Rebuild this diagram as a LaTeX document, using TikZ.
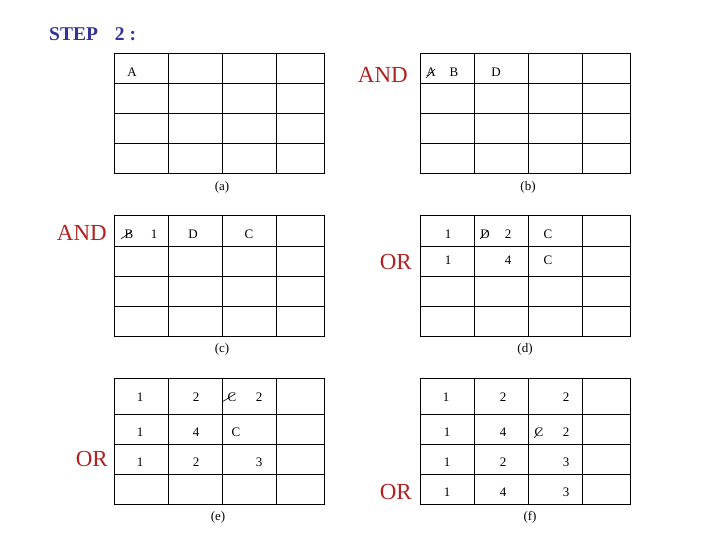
\documentclass[tikz,border=0pt]{standalone}
\usepackage{fontspec}
\setmainfont{Liberation Serif}
\usetikzlibrary{calc}
\definecolor{stepblue}{RGB}{51,51,153}
\definecolor{opred}{RGB}{178,34,34}
\begin{document}
\begin{tikzpicture}[x=1pt,y=-1pt,
  cell/.style={font=\fontsize{13}{15}\selectfont, inner sep=0pt},
  capt/.style={font=\fontsize{13}{15}\selectfont, inner sep=0pt},
  op/.style={font=\fontsize{23}{26}\selectfont, text=opred, inner sep=0pt},
  gridline/.style={line width=1pt, line cap=rect},
  slash/.style={line width=0.6pt}]
\useasboundingbox (0,0) rectangle (720,540);

% title
\node[anchor=base west, inner sep=0pt, text=stepblue, font=\fontsize{19.5}{22}\selectfont\bfseries] (title) at (49,41) {STEP\hspace{17pt}2\hspace{5pt}:};

% tables (a)-(d): rows of 30
\foreach \x/\y in {114/54, 420/54, 114/216, 420/216}{
  \foreach \r in {0,30,60,90,120} \draw[gridline] (\x,\y+\r) -- (\x+210,\y+\r);
  \foreach \c in {0,54,108,162,210} \draw[gridline] (\x+\c,\y) -- (\x+\c,\y+120);
}
% tables (e),(f): first row 36
\foreach \x in {114,420}{
  \foreach \r in {378,414,444,474,504} \draw[gridline] (\x,\r) -- (\x+210,\r);
  \foreach \c in {0,54,108,162,210} \draw[gridline] (\x+\c,378) -- (\x+\c,504);
}

% captions
\node[capt] (ca) at (222,187) {(a)};
\node[capt] (cb) at (528,187) {(b)};
\node[capt] (cc) at (222,349) {(c)};
\node[capt] (cd) at (525,349) {(d)};
\node[capt] (ce) at (218,517) {(e)};
\node[capt] (cf) at (530,517) {(f)};

% operators
\node[op, anchor=east] (and1) at (408,75) {AND};
\node[op, anchor=east] (and2) at (107,233) {AND};
\node[op, anchor=east] (or1) at (412,262) {OR};
\node[op, anchor=east] (or2) at (108,459) {OR};
\node[op, anchor=east] (or3) at (412,492) {OR};

% table (a)
\node[cell] (a11) at (132,72) {A};

% table (b)
\node[cell] (b11) at (431,72) {A};
\node[cell] (b12) at (454,72) {B};
\node[cell] (b13) at (496,72) {D};
\draw[slash] ($(b11.center)+(-5,6)$) -- ($(b11.center)+(4,-3)$);

% table (c)
\node[cell] (c11) at (129,234) {B};
\node[cell] (c12) at (154,234) {1};
\node[cell] (c13) at (193,234) {D};
\node[cell] (c14) at (249,234) {C};
\draw[slash] ($(c11.center)+(-8,5)$) -- ($(c11.center)+(3,-3)$);

% table (d)
\node[cell] (d11) at (448,234) {1};
\node[cell] (d12) at (485,234) {D};
\node[cell] (d13) at (508,234) {2};
\node[cell] (d14) at (548,234) {C};
\draw[slash] ($(d12.center)+(-5,5)$) -- ($(d12.center)+(3,-4)$);
\node[cell] (d21) at (448,260) {1};
\node[cell] (d22) at (508,260) {4};
\node[cell] (d23) at (548,260) {C};

% table (e)
\node[cell] (e11) at (140,397) {1};
\node[cell] (e12) at (196,397) {2};
\node[cell] (e13) at (232,397) {C};
\node[cell] (e14) at (259,397) {2};
\draw[slash] ($(e13.center)+(-10,5)$) -- ($(e13.center)+(3,-3)$);
\node[cell] (e21) at (140,432) {1};
\node[cell] (e22) at (196,432) {4};
\node[cell] (e23) at (236,432) {C};
\node[cell] (e31) at (140,462) {1};
\node[cell] (e32) at (196,462) {2};
\node[cell] (e33) at (259,462) {3};

% table (f)
\node[cell] (f11) at (446,397) {1};
\node[cell] (f12) at (503,397) {2};
\node[cell] (f13) at (566,397) {2};
\node[cell] (f21) at (447,432) {1};
\node[cell] (f22) at (503,432) {4};
\node[cell] (f23) at (539,432) {C};
\node[cell] (f24) at (566,432) {2};
\draw[slash] ($(f23.center)+(-5,6)$) -- ($(f23.center)+(3,-3)$);
\node[cell] (f31) at (447,462) {1};
\node[cell] (f32) at (503,462) {2};
\node[cell] (f33) at (566,462) {3};
\node[cell] (f41) at (447,492) {1};
\node[cell] (f42) at (503,492) {4};
\node[cell] (f43) at (566,492) {3};
\end{tikzpicture}
\end{document}
